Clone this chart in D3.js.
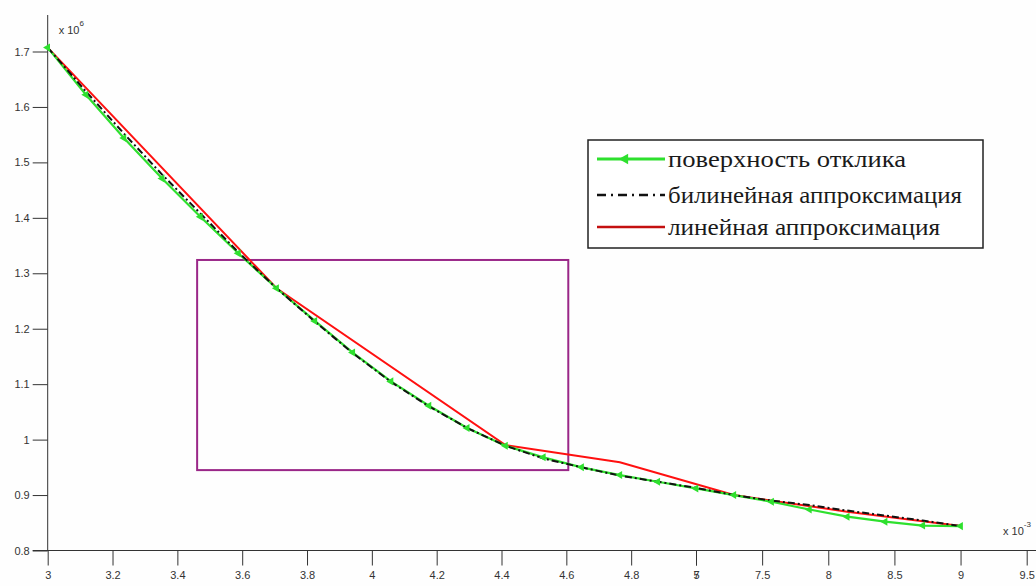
<!DOCTYPE html>
<html>
<head>
<meta charset="utf-8">
<script src="https://cdn.jsdelivr.net/npm/d3@7"></script>
<style>
  body { margin: 0; background: #fefefe; }
  svg { display: block; }
  .axis text { font-family: "Liberation Sans", Arial, sans-serif; font-size: 11px; fill: #333; }
  .axis line { stroke: #333; }
</style>
</head>
<body>
<script>
// x in units of 1e-3 (axis is broken: 3..5 then 7..9.5), y in units of 1e6
var xTicks = [3, 3.2, 3.4, 3.6, 3.8, 4, 4.2, 4.4, 4.6, 4.8, 5, 7, 7.5, 8, 8.5, 9, 9.5];
var yTicks = [0.8, 0.9, 1, 1.1, 1.2, 1.3, 1.4, 1.5, 1.6, 1.7];

var xVals = [3, 3.118, 3.235, 3.353, 3.471, 3.588, 3.706, 3.824, 3.941, 4.059, 4.176, 4.294,
             4.412, 4.529, 4.647, 4.765, 4.882, 5, 7.286, 7.571, 7.857, 8.143, 8.429, 8.714, 9];
// поверхность отклика
var surface = [1.707, 1.622, 1.544, 1.471, 1.402, 1.336, 1.273, 1.214, 1.157, 1.105, 1.061, 1.021,
               0.989, 0.968, 0.950, 0.936, 0.924, 0.912, 0.900, 0.888, 0.874, 0.861, 0.852, 0.845, 0.844];
// билинейная аппроксимация
var bilinear = [1.707, 1.628, 1.552, 1.478, 1.408, 1.338, 1.273, 1.213, 1.156, 1.104, 1.060, 1.021,
                0.989, 0.966, 0.950, 0.935, 0.924, 0.913, 0.900, 0.890, 0.882, 0.872, 0.863, 0.854, 0.844];
// линейная аппроксимация (only its break points)
var linearX = [3, 3.706, 4.412, 4.765, 7.286, 8.143, 9];
var linearY = [1.707, 1.273, 0.990, 0.959, 0.900, 0.870, 0.844];

// highlighted area
var boxX = [3.461, 4.606];
var boxY = [0.945, 1.324];

var legendLabels = ["поверхность отклика", "билинейная аппроксимация", "линейная аппроксимация"];

var width = 1036, height = 586;

var svg = d3.select("body").append("svg")
    .attr("width", width)
    .attr("height", height);

var x = d3.scaleLinear().domain([3, 5, 7, 9.5]).range([47.7, 696, 696, 1026.7]);
var y = d3.scaleLinear().domain([0.8, 1.7]).range([550.5, 51.5]);

// axes
var gx = svg.append("g")
    .attr("class", "axis")
    .attr("transform", "translate(0," + y(0.8) + ")")
    .call(d3.axisBottom(x).tickValues(xTicks).tickSize(15).tickPadding(6)
        .tickFormat(function(d) { return String(d); }));
gx.select(".domain").remove();
gx.append("line").attr("x1", x(3) - 15).attr("x2", width).attr("stroke", "#333");

var gy = svg.append("g")
    .attr("class", "axis")
    .attr("transform", "translate(" + x(3) + ",0)")
    .call(d3.axisLeft(y).tickValues(yTicks).tickSize(15).tickPadding(3)
        .tickFormat(function(d) { return String(d); }));
gy.select(".domain").remove();
gy.append("line").attr("y1", 15).attr("y2", y(0.8)).attr("stroke", "#333");

// exponent labels
var e6 = svg.append("text")
    .attr("x", x(3) + 11).attr("y", 34)
    .style("font-family", "Liberation Sans, Arial, sans-serif").style("font-size", "11px").attr("fill", "#333")
    .text("x 10");
e6.append("tspan").attr("dy", -8).style("font-size", "8px").text("6");

var e3 = svg.append("text")
    .attr("x", 1003).attr("y", 535)
    .style("font-family", "Liberation Sans, Arial, sans-serif").style("font-size", "11px").attr("fill", "#333")
    .text("x 10");
e3.append("tspan").attr("dy", -8).style("font-size", "8px").text("-3");

// highlight rectangle
svg.append("rect")
    .attr("x", x(boxX[0])).attr("y", y(boxY[1]))
    .attr("width", x(boxX[1]) - x(boxX[0]))
    .attr("height", y(boxY[0]) - y(boxY[1]))
    .attr("fill", "none")
    .attr("stroke", "#9a2788")
    .attr("stroke-width", 2);

var line = d3.line()
    .x(function(d) { return x(d[0]); })
    .y(function(d) { return y(d[1]); });

var surfPts = xVals.map(function(v, i) { return [v, surface[i]]; });
var biPts = xVals.map(function(v, i) { return [v, bilinear[i]]; });
var linPts = linearX.map(function(v, i) { return [v, linearY[i]]; });

svg.append("path")
    .attr("d", line(linPts))
    .attr("fill", "none")
    .attr("stroke", "#ff1010")
    .attr("stroke-width", 2);

svg.append("path")
    .attr("d", line(surfPts))
    .attr("fill", "none")
    .attr("stroke", "#2ee02e")
    .attr("stroke-width", 2.2);

svg.append("path")
    .attr("d", line(biPts))
    .attr("fill", "none")
    .attr("stroke", "#111")
    .attr("stroke-width", 2)
    .attr("stroke-dasharray", "7,3,2,3");

var tri = d3.symbol().type(d3.symbolTriangle).size(28);

svg.append("g").selectAll("path")
    .data(surfPts)
    .enter().append("path")
    .attr("d", tri)
    .attr("transform", function(d) { return "translate(" + x(d[0]) + "," + y(d[1]) + ") rotate(-90)"; })
    .attr("fill", "#2ee02e");

// legend
var legend = svg.append("g");
legend.append("rect")
    .attr("x", 588).attr("y", 140)
    .attr("width", 395).attr("height", 108)
    .attr("fill", "#fff")
    .attr("stroke", "#222")
    .attr("stroke-width", 1.5);

var legStyles = [
  { color: "#2ee02e", dash: null, w: 3 },
  { color: "#111", dash: "9,5,2,5", w: 2.5 },
  { color: "#c41010", dash: null, w: 2.5 }
];
var legY = [159, 195, 227];
var legLen = [238, 294, 272];

legendLabels.forEach(function(lbl, i) {
  legend.append("line")
      .attr("x1", 597).attr("x2", 665)
      .attr("y1", legY[i]).attr("y2", legY[i])
      .attr("stroke", legStyles[i].color)
      .attr("stroke-width", legStyles[i].w)
      .attr("stroke-dasharray", legStyles[i].dash);
  legend.append("text")
      .attr("x", 668).attr("y", legY[i] + 8)
      .attr("font-family", "'Liberation Serif', 'DejaVu Serif', serif")
      .attr("font-size", 24)
      .attr("fill", "#1a1a1a")
      .attr("textLength", legLen[i])
      .attr("lengthAdjust", "spacingAndGlyphs")
      .text(lbl);
});
legend.append("path")
    .attr("d", d3.symbol().type(d3.symbolTriangle).size(50))
    .attr("transform", "translate(625," + legY[0] + ") rotate(-90)")
    .attr("fill", "#2ee02e");
</script>
</body>
</html>
